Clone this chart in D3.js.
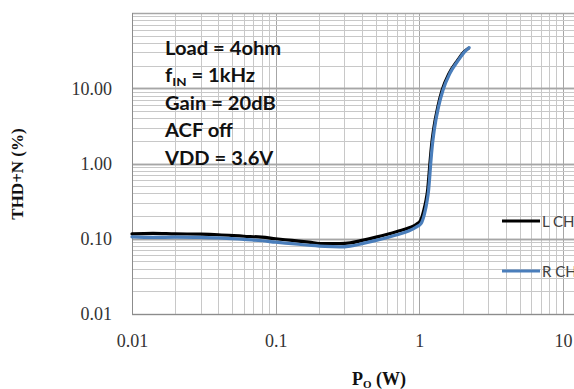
<!DOCTYPE html>
<html>
<head>
<meta charset="utf-8">
<script src="https://cdn.jsdelivr.net/npm/d3@7"></script>
<style>
  body { margin: 0; background: #fff; }
</style>
</head>
<body>
<div class="thdChart"></div>
<script>
var width = 574,
    height = 389;

// L channel (black)
var powerL = [0.01, 0.014, 0.02, 0.03, 0.04, 0.06, 0.08, 0.1, 0.13, 0.17, 0.22, 0.28, 0.33, 0.4, 0.5, 0.6, 0.7, 0.85, 0.95,
              1.02, 1.075, 1.115, 1.145, 1.165, 1.185, 1.215, 1.255, 1.345, 1.44, 1.61, 1.85, 2.03, 2.2];
var thdL   = [0.116, 0.118, 0.116, 0.115, 0.113, 0.108, 0.105, 0.100, 0.095, 0.090, 0.086, 0.086, 0.088, 0.095, 0.105, 0.115, 0.125, 0.14, 0.155,
              0.175, 0.24, 0.33, 0.46, 0.67, 1.0, 1.7, 2.78, 5.66, 9.4, 15.7, 23.6, 30, 34];

// R channel (blue)
var powerR = [0.01, 0.014, 0.02, 0.03, 0.04, 0.06, 0.08, 0.1, 0.13, 0.17, 0.22, 0.28, 0.33, 0.4, 0.5, 0.6, 0.7, 0.85, 0.95,
              1.03, 1.09, 1.13, 1.16, 1.18, 1.2, 1.23, 1.27, 1.36, 1.46, 1.63, 1.87, 2.05, 2.22];
var thdR   = [0.106, 0.104, 0.105, 0.104, 0.103, 0.098, 0.094, 0.090, 0.086, 0.082, 0.079, 0.078, 0.080, 0.086, 0.095, 0.104, 0.113, 0.128, 0.143,
              0.16, 0.22, 0.31, 0.44, 0.65, 1.0, 1.7, 2.78, 5.66, 9.4, 15.7, 23.6, 30, 34.7];

var xTicks = [0.01, 0.1, 1, 10];
var yTicks = [0.01, 0.1, 1, 10];
var seriesNames = ["L CH", "R CH"];
var color = ["#000000", "#4a7ebb"];
var notes = ["Load = 4ohm", "f|IN| = 1kHz", "Gain = 20dB", "ACF off", "VDD = 3.6V"];

// plot box (window.top is read-only, so no bare "top")
var plotL = 132, plotR = 563, plotT = 13, plotB = 314;

var x = d3.scaleLog().domain([0.01, 10]).range([plotL, plotR]);
var y = d3.scaleLog().domain([0.01, 100]).range([plotB, plotT]);

var svg = d3.select(".thdChart")
  .append("svg")
  .attr("width", width)
  .attr("height", height);

// minor + major grid
var xGrid = [], yGrid = [];
[0.01, 0.1, 1].forEach(function(d) {
  for (var k = 1; k <= 10; k++) xGrid.push({v: d * k, major: k == 1 || k == 10});
});
[0.01, 0.1, 1, 10].forEach(function(d) {
  for (var k = 1; k <= 10; k++) yGrid.push({v: d * k, major: k == 1 || k == 10});
});

svg.append("g").selectAll("line")
  .data(xGrid)
  .enter().append("line")
  .attr("x1", function(d) { return Math.round(x(d.v)) + 0.5; })
  .attr("x2", function(d) { return Math.round(x(d.v)) + 0.5; })
  .attr("y1", plotT)
  .attr("y2", plotB)
  .attr("stroke", function(d) { return d.major ? "#a6a6a6" : "#c8c8c8"; })
  .attr("stroke-width", 1);

svg.append("g").selectAll("line")
  .data(yGrid)
  .enter().append("line")
  .attr("x1", plotL)
  .attr("x2", width)
  .attr("y1", function(d) { return Math.round(y(d.v)) + 0.5; })
  .attr("y2", function(d) { return Math.round(y(d.v)) + 0.5; })
  .attr("stroke", function(d) { return d.major ? "#a6a6a6" : "#c8c8c8"; })
  .attr("stroke-width", function(d) { return d.major ? 1.3 : 1; });

// axis lines
svg.append("line")
  .attr("x1", plotL + 0.5).attr("x2", plotL + 0.5)
  .attr("y1", plotT).attr("y2", plotB + 0.5)
  .attr("stroke", "#8c8c8c");
svg.append("line")
  .attr("x1", plotL).attr("x2", width)
  .attr("y1", plotB + 0.5).attr("y2", plotB + 0.5)
  .attr("stroke", "#8c8c8c");

// tick labels
var yAxis = d3.axisLeft(y).tickValues(yTicks).tickSize(0).tickPadding(20)
  .tickFormat(d3.format(".2f"));
var gy = svg.append("g").attr("transform", "translate(" + plotL + ",0)").call(yAxis);
gy.select(".domain").remove();
gy.selectAll("text")
  .attr("font-family", "'Liberation Serif', serif")
  .attr("font-size", "18px")
  .attr("fill", "#333");

var xAxis = d3.axisBottom(x).tickValues(xTicks).tickSize(0).tickPadding(20)
  .tickFormat(function(d) { return d; });
var gx = svg.append("g").attr("transform", "translate(0," + plotB + ")").call(xAxis);
gx.select(".domain").remove();
gx.selectAll("text")
  .attr("font-family", "'Liberation Serif', serif")
  .attr("font-size", "18px")
  .attr("fill", "#333");

// curves
var line = d3.line()
  .x(function(d) { return x(d[0]); })
  .y(function(d) { return y(d[1]); })
  .curve(d3.curveMonotoneX);

var series = [d3.zip(powerL, thdL), d3.zip(powerR, thdR)];
svg.selectAll("path.curve")
  .data(series)
  .enter().append("path")
  .attr("class", "curve")
  .attr("d", line)
  .attr("fill", "none")
  .attr("stroke", function(d, i) { return color[i]; })
  .attr("stroke-width", 3.2)
  .attr("stroke-linejoin", "round")
  .attr("stroke-linecap", "round");

// annotation block, a little wider than Lato draws it
var note = svg.append("g")
  .attr("transform", "translate(165,0) scale(1.12,1)")
  .attr("font-family", "Lato, 'Open Sans', sans-serif")
  .attr("font-weight", "bold")
  .attr("font-size", "18px")
  .attr("fill", "#111");
notes.forEach(function(s, i) {
  var t = note.append("text").attr("x", 0).attr("y", 55 + i * 27.5);
  var parts = s.split("|");
  t.append("tspan").text(parts[0]);
  if (parts.length > 1) {
    t.append("tspan").attr("font-size", "12px").attr("dy", 4).text(parts[1]);
    t.append("tspan").attr("dy", -4).text(parts[2]);
  }
});

// legend
var legend = svg.selectAll(".legend")
  .data(seriesNames)
  .enter().append("g")
  .attr("class", "legend")
  .attr("transform", function(d, i) { return "translate(502," + (221 + i * 50) + ")"; });

legend.append("line")
  .attr("x1", 0).attr("x2", 38)
  .attr("stroke", function(d, i) { return color[i]; })
  .attr("stroke-width", 3.2);

legend.append("text")
  .attr("x", 40)
  .attr("y", 5.5)
  .attr("font-family", "Lato, sans-serif")
  .attr("font-size", "15px")
  .attr("fill", "#404040")
  .text(function(d) { return d; });

// axis titles
var xt = svg.append("text")
  .attr("x", 379)
  .attr("y", 385)
  .attr("text-anchor", "middle")
  .attr("font-family", "'Liberation Serif', serif")
  .attr("font-weight", "bold")
  .attr("font-size", "18px")
  .attr("fill", "#111");
xt.append("tspan").text("P");
xt.append("tspan").attr("font-size", "11px").attr("dy", 3).text("O");
xt.append("tspan").attr("dy", -3).text(" (W)");

svg.append("text")
  .attr("transform", "translate(23,174) rotate(-90)")
  .attr("text-anchor", "middle")
  .attr("font-family", "'Liberation Serif', serif")
  .attr("font-weight", "bold")
  .attr("font-size", "17px")
  .attr("fill", "#111")
  .text("THD+N (%)");
</script>
</body>
</html>
